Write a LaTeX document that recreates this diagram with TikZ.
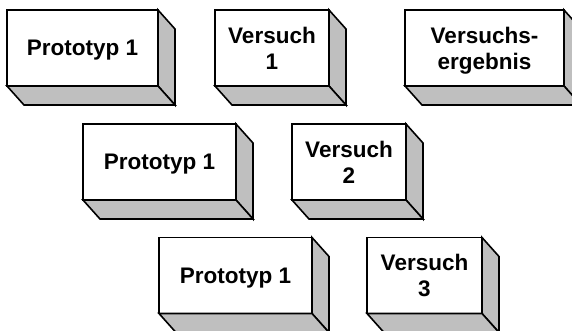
\documentclass[tikz,border=0pt]{standalone}
\usepackage{fontspec}
\setmainfont{Liberation Sans}
\usetikzlibrary{calc}
\newcommand\cubefaces[1]{%
  \draw[sideface] (#1.north east) -- ($(#1.north east)+(17pt,-19pt)$) -- ($(#1.south east)+(17pt,-19pt)$) -- (#1.south east) -- cycle;
  \draw[sideface] (#1.south west) -- (#1.south east) -- ($(#1.south east)+(17pt,-19pt)$) -- ($(#1.south west)+(17pt,-19pt)$) -- cycle;
}
\begin{document}
\begin{tikzpicture}[x=1pt,y=1pt,
  front/.style={draw, line width=1.6pt, fill=white, outer sep=0pt, inner sep=0pt,
    minimum height=76pt, text depth=0pt, align=center, font=\fontsize{22.5}{26}\selectfont\bfseries},
  sideface/.style={draw, line width=1.6pt, fill=black!25, line join=miter}]
\useasboundingbox (0,0) rectangle (572,-331);
\clip (0,0) rectangle (572,-331);
\node[front, minimum width=151pt] (b1) at (82.5,-48) {Prototyp 1};
\node[front, minimum width=114pt] (b2) at (272,-48) {Versuch\\1};
\node[front, minimum width=159pt] (b3) at (484.5,-48) {Versuchs-\\ergebnis};
\node[front, minimum width=153pt] (b4) at (159.5,-162) {Prototyp 1};
\node[front, minimum width=114pt] (b5) at (349,-162) {Versuch\\2};
\node[front, minimum width=153pt] (b6) at (235.5,-275.5) {Prototyp 1};
\node[front, minimum width=115pt] (b7) at (424.5,-275.5) {Versuch\\3};
\foreach \n in {b1,b2,b3,b4,b5,b6,b7} {\cubefaces{\n}}
\end{tikzpicture}
\end{document}
